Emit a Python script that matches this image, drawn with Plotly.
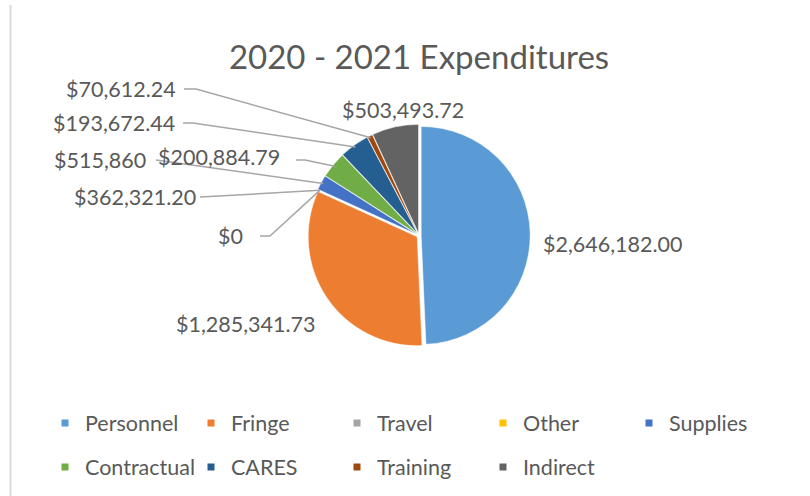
import math
import plotly.graph_objects as go

# ~~~DATA~~~
categories = ["Personnel", "Fringe", "Travel", "Other", "Supplies",
              "Contractual", "CARES", "Training", "Indirect"]
# share of the circle for each slice (percent)
slice_share = [49.3, 32.5, 0, 0, 2.2, 3.9, 4.4, 0.8, 6.9]
# data label text as printed on the chart
label_text = ["$2,646,182.00", "$1,285,341.73", "$0", "$362,321.20", "$515,860",
              "$200,884.79", "$193,672.44", "$70,612.24", "$503,493.72"]
colors = ["#5B9BD5", "#ED7D31", "#A5A5A5", "#FFC000", "#4472C4",
          "#70AD47", "#255E91", "#9E480E", "#636363"]

W, H = 810, 496
FONT = "Lato"
TXT = "#595959"
LINE = "#A6A6A6"

# Pie geometry (pixels)
cx, cy, r = 419, 235.5, 109
pull = 0.02
half = r * (1 + pull)

fig = go.Figure()
fig.add_trace(go.Pie(
    labels=categories, values=slice_share, sort=False, direction="clockwise",
    rotation=0, marker=dict(colors=colors, line=dict(color="white", width=0.5)),
    pull=[pull] * len(categories), textinfo="none", hoverinfo="label+value",
    showlegend=False,
    domain=dict(x=[(cx - half) / W, (cx + half) / W],
                y=[1 - (cy + half) / H, 1 - (cy - half) / H]),
))

# Legend via marker-only traces, two rows
for i, (name, c) in enumerate(zip(categories, colors)):
    fig.add_trace(go.Scatter(
        x=[None], y=[None], mode="markers", name=name,
        marker=dict(symbol="square", size=7, color=c),
        legend="legend" if i < 5 else "legend2"))

# Mid angle of each slice (deg, clockwise from 12 o'clock)
total = sum(slice_share)
mids, acc = [], 0
for v in slice_share:
    mids.append((acc + v / 2) / total * 360)
    acc += v

def edge_point(i):
    a = math.radians(mids[i])
    return cx + r * math.sin(a), cy - r * math.cos(a)

def px(x, y):
    return x / W, 1 - y / H

# label placement: (x, y, xanchor, leader line start points)
placement = {
    0: (541, 244, "left", None),
    1: (318, 324, "right", None),
    2: (245, 236, "right", [(260, 236), (270, 236)]),
    3: (198, 197, "right", [(200, 197)]),
    4: (148, 160, "right", [(156, 160)]),
    5: (282, 157, "right", [(296, 160), (305, 160)]),
    6: (177, 123, "right", [(183, 123), (193, 123)]),
    7: (178, 89, "right", [(184, 89), (196, 89)]),
    8: (403, 110, "center", None),
}

annotations = []
shapes = []
for i, (x, y, anchor, pts) in placement.items():
    ax, ay = px(x, y)
    annotations.append(dict(x=ax, y=ay, xref="paper", yref="paper", text=label_text[i],
                            showarrow=False, xanchor=anchor, yanchor="middle",
                            font=dict(family=FONT, size=21.5, color=TXT)))
    if pts:
        path = pts + [edge_point(i)]
        d = "M " + " L ".join(f"{px(a, b)[0]},{px(a, b)[1]}" for a, b in path)
        shapes.append(dict(type="path", path=d, xref="paper", yref="paper",
                           line=dict(color=LINE, width=1.5)))

# chart area border on the left
shapes.append(dict(type="line", xref="paper", yref="paper", x0=10.5 / W, x1=10.5 / W,
                   y0=0, y1=1 - 5 / H, line=dict(color="#D9D9D9", width=2)))

legend_common = dict(orientation="h", xanchor="left", yanchor="middle",
                     entrywidth=101, entrywidthmode="pixels",
                     font=dict(family=FONT, size=21.5, color=TXT),
                     bgcolor="rgba(0,0,0,0)", itemclick=False, itemdoubleclick=False)

fig.update_layout(
    width=W, height=H,
    margin=dict(l=0, r=0, t=0, b=0),
    paper_bgcolor="white", plot_bgcolor="white",
    title=dict(text="2020 - 2021 Expenditures", x=419 / W, xanchor="center",
               y=1 - 57 / H, yanchor="middle",
               font=dict(family=FONT, size=33, color=TXT)),
    xaxis=dict(visible=False), yaxis=dict(visible=False),
    legend=dict(x=45 / W, y=1 - 423 / H, **legend_common),
    legend2=dict(x=45 / W, y=1 - 467 / H, **legend_common),
    annotations=annotations, shapes=shapes,
)

fig.write_html("out.html", config={"displayModeBar": False},
               post_script="document.body.style.margin='0px';")
